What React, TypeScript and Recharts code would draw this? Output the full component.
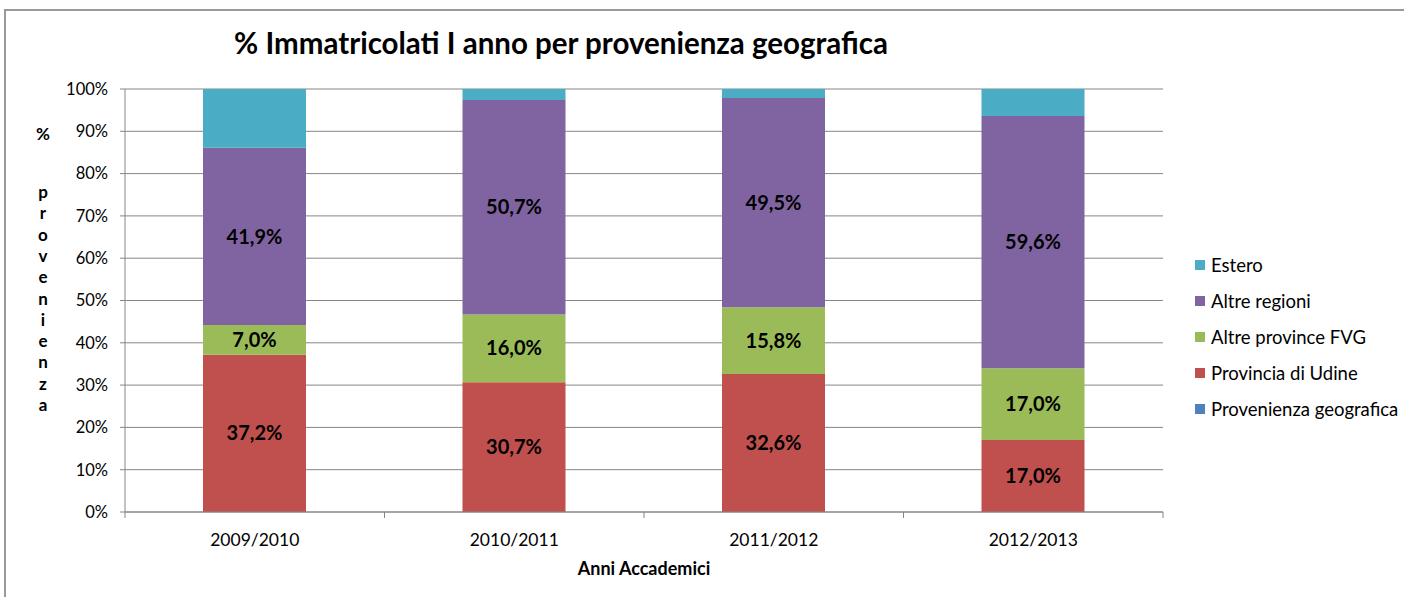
import React from 'react';
import { Bar, BarChart, CartesianGrid, LabelList, Legend, XAxis, YAxis } from 'recharts';

const years = ['2009/2010', '2010/2011', '2011/2012', '2012/2013'];
const provenienza = [0, 0, 0, 0];
const udine = [37.2, 30.7, 32.6, 17.0];
const altreFvg = [7.0, 16.0, 15.8, 17.0];
const altreRegioni = [41.9, 50.7, 49.5, 59.6];
const estero = [13.9, 2.6, 2.1, 6.4];
const yTicks = [0, 10, 20, 30, 40, 50, 60, 70, 80, 90, 100];
const legendOrder = ['Estero', 'Altre regioni', 'Altre province FVG', 'Provincia di Udine', 'Provenienza geografica'];

const data = years.map((year, i) => ({
  year,
  provenienza: provenienza[i],
  udine: udine[i],
  altreFvg: altreFvg[i],
  altreRegioni: altreRegioni[i],
  estero: estero[i],
}));

const FONT = 'Lato, "Open Sans", sans-serif';
const GRID = '#868686';
const TICK_MARGIN = 10;

const fmt = (v: number) => `${v.toFixed(1).replace('.', ',')}%`;

const labelStyle = { fontSize: 20, fontWeight: 700, fill: '#000' };

function LegendBox(props: any) {
  const items = [...(props.payload || [])].sort(
    (a: any, b: any) => legendOrder.indexOf(a.value) - legendOrder.indexOf(b.value)
  );
  return (
    <div style={{ fontFamily: FONT, fontSize: 18.5, color: '#000' }}>
      {items.map((it: any) => (
        <div key={it.value} style={{ display: 'flex', alignItems: 'center', height: 36 }}>
          <span style={{ width: 10, height: 10, background: it.color, marginRight: 6, flex: 'none' }} />
          <span style={{ whiteSpace: 'nowrap' }}>{it.value}</span>
        </div>
      ))}
    </div>
  );
}

// category label plus boundary tick marks between categories
function YearTick(props: any) {
  const { x, y, payload, index, visibleTicksCount, width } = props;
  const half = width / visibleTicksCount / 2;
  const ay = y - TICK_MARGIN;
  return (
    <g>
      <line x1={x - half} x2={x - half} y1={ay} y2={ay + 6} stroke={GRID} />
      {index === visibleTicksCount - 1 && <line x1={x + half} x2={x + half} y1={ay} y2={ay + 6} stroke={GRID} />}
      <text x={x} y={ay + 34} textAnchor="middle" fontSize={17.5} fill="#000">
        {payload.value}
      </text>
    </g>
  );
}

function YTitle() {
  const letters = 'provenienza'.split('');
  return (
    <g style={{ fontFamily: FONT, fontSize: 17, fontWeight: 700 }} fill="#000" textAnchor="middle">
      <text x={43} y={140}>%</text>
      {letters.map((c, i) => (
        <text key={i} x={43} y={198 + i * 21.3}>
          {c}
        </text>
      ))}
    </g>
  );
}

export default function App() {
  return (
    <div style={{ position: 'fixed', left: 0, top: 0, width: 1404, height: 597, background: '#fff', fontFamily: FONT, overflow: 'hidden' }}>
      <div style={{ position: 'absolute', left: 4, top: 9, width: 1500, height: 700, borderLeft: '2px solid #999', borderTop: '2px solid #999' }} />
      <div style={{ position: 'absolute', left: 0, width: 1122, top: 25, textAlign: 'center', fontSize: 29.5, fontWeight: 700, color: '#000' }}>
        % Immatricolati I anno per provenienza geografica
      </div>
      <BarChart
        width={1404}
        height={597}
        data={data}
        margin={{ top: 89, right: 241, bottom: 25, left: 2 }}
        style={{ position: 'absolute', left: 0, top: 0 }}
      >
        <CartesianGrid vertical={false} stroke={GRID} />
        <XAxis
          xAxisId="cat"
          dataKey="year"
          height={60}
          axisLine={{ stroke: GRID }}
          tickLine={false}
          tickSize={0}
          tickMargin={TICK_MARGIN}
          interval={0}
          tick={<YearTick />}
          label={{ value: 'Anni Accademici', position: 'insideBottom', offset: -3, style: { fontSize: 18, fontWeight: 700, fill: '#000' } }}
        />
        <YAxis
          width={123}
          domain={[0, 100]}
          ticks={yTicks}
          tickFormatter={(v: number) => `${v}%`}
          axisLine={{ stroke: GRID }}
          tickLine={{ stroke: GRID }}
          tickSize={5}
          tickMargin={12}
          tick={{ fontSize: 16.5, fill: '#000' }}
          label={{ content: () => <YTitle /> }}
        />
        <Legend
          layout="vertical"
          align="center"
          verticalAlign="middle"
          wrapperStyle={{ left: 1195, top: 247, width: 209 }}
          content={<LegendBox />}
        />
        <Bar xAxisId="cat" dataKey="provenienza" name="Provenienza geografica" stackId="s" fill="#4F81BD" barSize={103} isAnimationActive={false} />
        <Bar xAxisId="cat" dataKey="udine" name="Provincia di Udine" stackId="s" fill="#C0504D" barSize={103} isAnimationActive={false}>
          <LabelList dataKey="udine" position="center" formatter={fmt} style={labelStyle} />
        </Bar>
        <Bar xAxisId="cat" dataKey="altreFvg" name="Altre province FVG" stackId="s" fill="#9BBB59" barSize={103} isAnimationActive={false}>
          <LabelList dataKey="altreFvg" position="center" formatter={fmt} style={labelStyle} />
        </Bar>
        <Bar xAxisId="cat" dataKey="altreRegioni" name="Altre regioni" stackId="s" fill="#8064A2" barSize={103} isAnimationActive={false}>
          <LabelList dataKey="altreRegioni" position="center" formatter={fmt} style={labelStyle} />
        </Bar>
        <Bar xAxisId="cat" dataKey="estero" name="Estero" stackId="s" fill="#4BACC6" barSize={103} isAnimationActive={false} />
      </BarChart>
    </div>
  );
}
